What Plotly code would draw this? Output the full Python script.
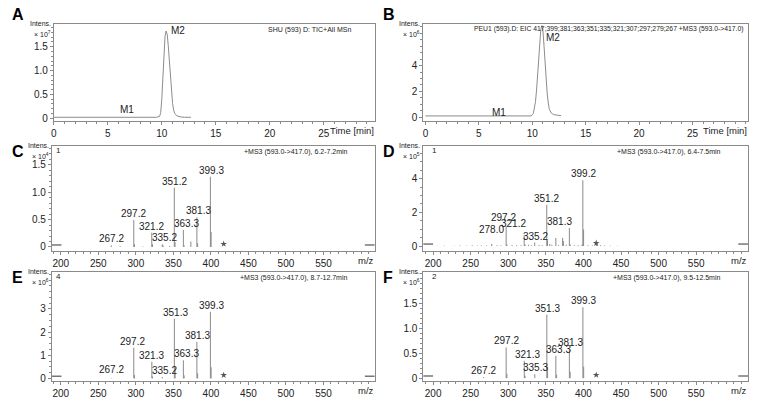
import plotly.graph_objects as go

W, H = 759, 404

# ---------------- data ----------------
# Chromatograms (A: TIC x10^7, B: EIC x10^6)
A_t = [0.0, 9.5, 9.8, 9.9, 10.0, 10.1, 10.2, 10.3, 10.4, 10.5, 10.6, 10.7, 10.8, 10.9, 11.0, 11.1, 11.2, 11.4, 11.7, 12.1, 12.7]
A_i = [0.02, 0.02, 0.04, 0.12, 0.40, 0.90, 1.40, 1.72, 1.83, 1.76, 1.52, 1.18, 0.82, 0.52, 0.31, 0.17, 0.10, 0.05, 0.03, 0.02, 0.02]
B_t = [0.0, 9.9, 10.1, 10.3, 10.4, 10.5, 10.6, 10.7, 10.8, 10.9, 11.0, 11.1, 11.2, 11.3, 11.4, 11.5, 11.6, 11.8, 12.0, 12.7]
B_i = [0.10, 0.10, 0.30, 1.20, 2.10, 3.20, 4.60, 5.90, 6.80, 7.10, 6.70, 5.50, 4.10, 2.80, 1.80, 1.10, 0.60, 0.30, 0.20, 0.12]
time_ticks = [0, 5, 10, 15, 20, 25]

# MS3 spectra
C_mz = [267.2, 279.1, 297.2, 298.2, 309.2, 321.2, 322.2, 335.2, 336.2, 345.2, 351.2, 352.2, 363.3, 364.3, 373.3, 381.3, 382.3, 399.3, 400.3]
C_int = [0.03, 0.015, 0.49, 0.05, 0.01, 0.26, 0.05, 0.05, 0.03, 0.02, 1.08, 0.09, 0.31, 0.03, 0.10, 0.54, 0.07, 1.28, 0.27]
C_labels = ["267.2", "297.2", "321.2", "335.2", "351.2", "363.3", "381.3", "399.3"]

D_mz = [278.0, 297.2, 298.2, 321.2, 322.2, 335.2, 351.2, 352.2, 355.2, 363.3, 372.3, 373.3, 381.3, 382.3, 398.2, 399.2, 400.2, 417.1, 418.1]
D_int = [0.12, 1.20, 0.10, 0.66, 0.10, 0.21, 2.45, 0.35, 0.12, 0.48, 0.48, 0.30, 1.07, 0.10, 0.10, 3.90, 0.98, 0.15, 0.08]
D_noise_mz = [205, 215, 228, 236, 244, 252, 259, 264, 271, 285, 290, 305, 311, 317, 327, 331, 341, 345, 358, 367, 377, 388, 393, 406, 412, 423, 428, 436, 445]
D_noise = [0.02, 0.03, 0.02, 0.04, 0.03, 0.05, 0.03, 0.04, 0.05, 0.06, 0.04, 0.07, 0.05, 0.06, 0.08, 0.05, 0.07, 0.06, 0.09, 0.06, 0.08, 0.05, 0.06, 0.05, 0.04, 0.06, 0.04, 0.03, 0.02]
D_labels = ["278.0", "297.2", "321.2", "335.2", "351.2", "381.3", "399.2"]

E_mz = [267.2, 297.2, 298.2, 321.3, 322.3, 335.2, 351.3, 352.3, 363.3, 364.3, 381.3, 382.3, 399.3, 400.3]
E_int = [0.02, 1.33, 0.14, 0.72, 0.08, 0.06, 2.58, 0.45, 0.78, 0.13, 1.58, 0.22, 2.88, 0.48]
E_labels = ["267.2", "297.2", "321.3", "335.2", "351.3", "363.3", "381.3", "399.3"]

F_mz = [267.2, 297.2, 298.2, 321.3, 322.3, 335.3, 351.3, 352.3, 363.3, 364.3, 381.3, 382.3, 399.3, 400.3]
F_int = [0.02, 0.62, 0.09, 0.35, 0.05, 0.08, 1.28, 0.23, 0.45, 0.07, 0.58, 0.13, 1.43, 0.23]
F_labels = ["267.2", "297.2", "321.3", "335.3", "351.3", "363.3", "381.3", "399.3"]

mz_ticks = [200, 250, 300, 350, 400, 450, 500, 550]
precursor = 417.0

# ---------------- layout helpers ----------------
def px(x):
    return x / W

def py(y):
    return 1 - y / H

FONT = "Arial, Liberation Sans, sans-serif"
LINE = "#8a8a8a"
TXT = "#222222"

panels = {
    # name: (x0, x1, ytop, ybottom) in pixels
    "A": (51, 373, 24, 122),
    "B": (422, 748, 24, 122),
    "C": (49, 373, 147, 253),
    "D": (422, 748, 147, 253),
    "E": (49, 373, 274, 384),
    "F": (422, 748, 274, 384),
}

fig = go.Figure()
layout = dict(
    width=W, height=H, margin=dict(l=0, r=0, t=0, b=0),
    paper_bgcolor="white", plot_bgcolor="white", showlegend=False,
    font=dict(family=FONT, size=10, color=TXT),
)
annotations = []
shapes = []

def axis_common():
    return dict(showline=True, mirror=True, linecolor=LINE, linewidth=1,
                ticks="outside", ticklen=3, tickcolor=LINE, showgrid=False,
                zeroline=False, tickfont=dict(size=10, color=TXT, family=FONT))

specs = {
    "A": dict(idx=1, xr=[0, 29.7], yr=[-0.06, 1.98], yt=[0, 0.5, 1.0, 1.5], ytt=["0", "0.5", "1.0", "1.5"], ym=0.1, xm=1, exp="7"),
    "B": dict(idx=2, xr=[-0.2, 30.2], yr=[-0.3, 7.23], yt=[0, 2, 4], ytt=["0", "2", "4"], ym=0.5, xm=1, exp="6"),
    "C": dict(idx=3, xr=[188, 618], yr=[-0.075, 1.84], yt=[0, 0.5, 1.0, 1.5], ytt=["0", "0.5", "1.0", "1.5"], ym=0.1, xm=10, exp="4"),
    "D": dict(idx=4, xr=[187, 619], yr=[-0.3, 5.94], yt=[0, 2, 4], ytt=["0", "2", "4"], ym=0.5, xm=10, exp="5"),
    "E": dict(idx=5, xr=[188, 618], yr=[-0.12, 4.6], yt=[0, 1, 2, 3], ytt=["0", "1", "2", "3"], ym=0.25, xm=10, exp="6"),
    "F": dict(idx=6, xr=[187, 619], yr=[-0.06, 2.14], yt=[0, 0.5, 1.0, 1.5], ytt=["0", "0.5", "1.0", "1.5"], ym=0.1, xm=10, exp="6"),
}

for name, s in specs.items():
    x0, x1, yt, yb = panels[name]
    i = s["idx"]
    xa = axis_common()
    ya = axis_common()
    xticks = time_ticks if name in "AB" else mz_ticks
    xa.update(domain=[px(x0), px(x1)], range=s["xr"], anchor=f"y{i}",
              tickvals=xticks, ticktext=[str(v) for v in xticks],
              minor=dict(dtick=s["xm"], ticklen=2, tickcolor=LINE, ticks="outside"))
    ya.update(domain=[py(yb), py(yt)], range=s["yr"], anchor=f"x{i}",
              tickvals=s["yt"], ticktext=s["ytt"],
              minor=dict(dtick=s["ym"], ticklen=2, tickcolor=LINE, ticks="outside"))
    layout[f"xaxis{i}"] = xa
    layout[f"yaxis{i}"] = ya
    # panel letter
    lx = 7 if name in "ACE" else 380
    ly = 15 if name in "AB" else yt + 6
    annotations.append(dict(text=f"<b>{name}</b>", x=px(lx), y=py(ly),
                            xref="paper", yref="paper", showarrow=False, xanchor="left", yanchor="middle",
                            font=dict(size=16, color="black", family=FONT)))
    # Intens / x10^n
    annotations.append(dict(text="Intens.", x=px(x0 - 1), y=py(yt), xref="paper", yref="paper", showarrow=False,
                            xanchor="right", yanchor="middle", font=dict(size=7, color=TXT, family=FONT)))
    annotations.append(dict(text=f"× 10<sup>{s['exp']}</sup>", x=px(x0 - 1), y=py(yt + 10), xref="paper", yref="paper",
                            showarrow=False, xanchor="right", yanchor="middle", font=dict(size=7, color=TXT, family=FONT)))
    # axis unit label at right end
    unit = "Time [min]" if name in "AB" else "m/z"
    annotations.append(dict(text=unit, x=px(x1 + 1), y=py(yb + 9), xref="paper", yref="paper", showarrow=False,
                            xanchor="right", yanchor="middle", font=dict(size=9.5, color=TXT, family=FONT)))

# chromatograms
fig.add_trace(go.Scatter(x=A_t, y=A_i, mode="lines", line=dict(color="#8c8c8c", width=1), xaxis="x", yaxis="y"))
fig.add_trace(go.Scatter(x=B_t, y=B_i, mode="lines", line=dict(color="#8c8c8c", width=1), xaxis="x2", yaxis="y2"))

annotations += [
    dict(text="SHU (593) D: TIC+All MSn", x=px(351), y=py(30), xref="paper", yref="paper", showarrow=False,
         xanchor="right", yanchor="middle", font=dict(size=7, color=TXT)),
    dict(text="PEU1 (593).D: EIC 417;399;381;363;351;335;321;307;297;279;267 +MS3 (593.0->417.0)", x=px(745), y=py(29),
         xref="paper", yref="paper", showarrow=False, xanchor="right", yanchor="middle", font=dict(size=6.8, color=TXT)),
    dict(text="M2", x=11.5, y=1.85, xref="x", yref="y", showarrow=False, font=dict(size=10, color=TXT)),
    dict(text="M1", x=6.8, y=0.19, xref="x", yref="y", showarrow=False, font=dict(size=10, color=TXT)),
    dict(text="M2", x=11.9, y=6.15, xref="x2", yref="y2", showarrow=False, font=dict(size=10, color=TXT)),
    dict(text="M1", x=6.9, y=0.38, xref="x2", yref="y2", showarrow=False, font=dict(size=10, color=TXT)),
]

def sticks(mz, inten):
    xs, ys = [], []
    for m, v in zip(mz, inten):
        xs += [m, m, None]
        ys += [0, v, None]
    return xs, ys

spectra = [
    ("C", 3, C_mz, C_int, C_labels, "6.2-7.2min", "1",
     {"335.2": 2, "363.3": 3, "381.3": 2, "399.3": 1}, {}),
    ("D", 4, D_mz, D_int, D_labels, "6.4-7.5min", "1",
     {"278.0": 0, "297.2": -3, "321.2": -11, "335.2": 1, "381.3": -10, "399.2": 1}, {"278.0": 8, "321.2": 5, "297.2": 2}),
    ("E", 5, E_mz, E_int, E_labels, "8.7-12.7min", "4",
     {"297.2": -1, "335.2": 2, "351.3": 1, "363.3": 3, "381.3": 1, "399.3": 1}, {"267.2": 2}),
    ("F", 6, F_mz, F_int, F_labels, "9.5-12.5min", "2",
     {"321.3": 3, "335.3": 1, "351.3": 1, "363.3": 3, "381.3": 1, "399.3": 1}, {}),
]

for name, i, mz, inten, labels, rt, scan, xsh, ysh in spectra:
    x0, x1, yt, yb = panels[name]
    if name == "D":
        nx, ny = sticks(D_noise_mz, D_noise)
        fig.add_trace(go.Scatter(x=nx, y=ny, mode="lines", line=dict(color="#9a9a9a", width=1),
                                 xaxis=f"x{i}", yaxis=f"y{i}", connectgaps=False))
    xs, ys = sticks(mz, inten)
    fig.add_trace(go.Scatter(x=xs, y=ys, mode="lines", line=dict(color="#8a8a8a", width=1),
                             xaxis=f"x{i}", yaxis=f"y{i}", connectgaps=False))
    # precursor marker
    fig.add_trace(go.Scatter(x=[precursor], y=[0.03 * specs[name]["yr"][1]], mode="markers",
                             marker=dict(symbol="star", size=5, color="#555"), xaxis=f"x{i}", yaxis=f"y{i}"))
    for lab in labels:
        m = float(lab)
        k = min(range(len(mz)), key=lambda j: abs(mz[j] - m))
        annotations.append(dict(text=lab, x=mz[k], y=inten[k], xref=f"x{i}", yref=f"y{i}", showarrow=False,
                                xanchor="center", yanchor="bottom", xshift=xsh.get(lab, 0), yshift=ysh.get(lab, 0) - 1,
                                font=dict(size=10, color=TXT)))
    annotations.append(dict(text=f"+MS3 (593.0->417.0), {rt}", x=px(x1 - 25), y=py(yt + 6), xref="paper", yref="paper",
                            showarrow=False, xanchor="right", yanchor="middle", font=dict(size=7, color=TXT)))
    annotations.append(dict(text=scan, x=px(x0 + 2 if name in "CE" else x0 + 7), y=py(yt + 5), xref="paper", yref="paper",
                            showarrow=False, xanchor="left", yanchor="middle", font=dict(size=8, color=TXT)))
    # small range markers at both ends of the baseline
    for a, b in [(0.0, 0.03), (0.97, 1.0)]:
        shapes.append(dict(type="line", xref=f"x{i} domain", yref=f"y{i}", x0=a, x1=b, y0=0.02 * specs[name]["yr"][1],
                           y1=0.02 * specs[name]["yr"][1], line=dict(color="#777", width=1.5)))

layout["annotations"] = annotations
layout["shapes"] = shapes
fig.update_layout(**layout)
fig.write_html("out.html", config={"displayModeBar": False},
               post_script="document.body.style.margin='0px';document.body.style.overflow='hidden';")
